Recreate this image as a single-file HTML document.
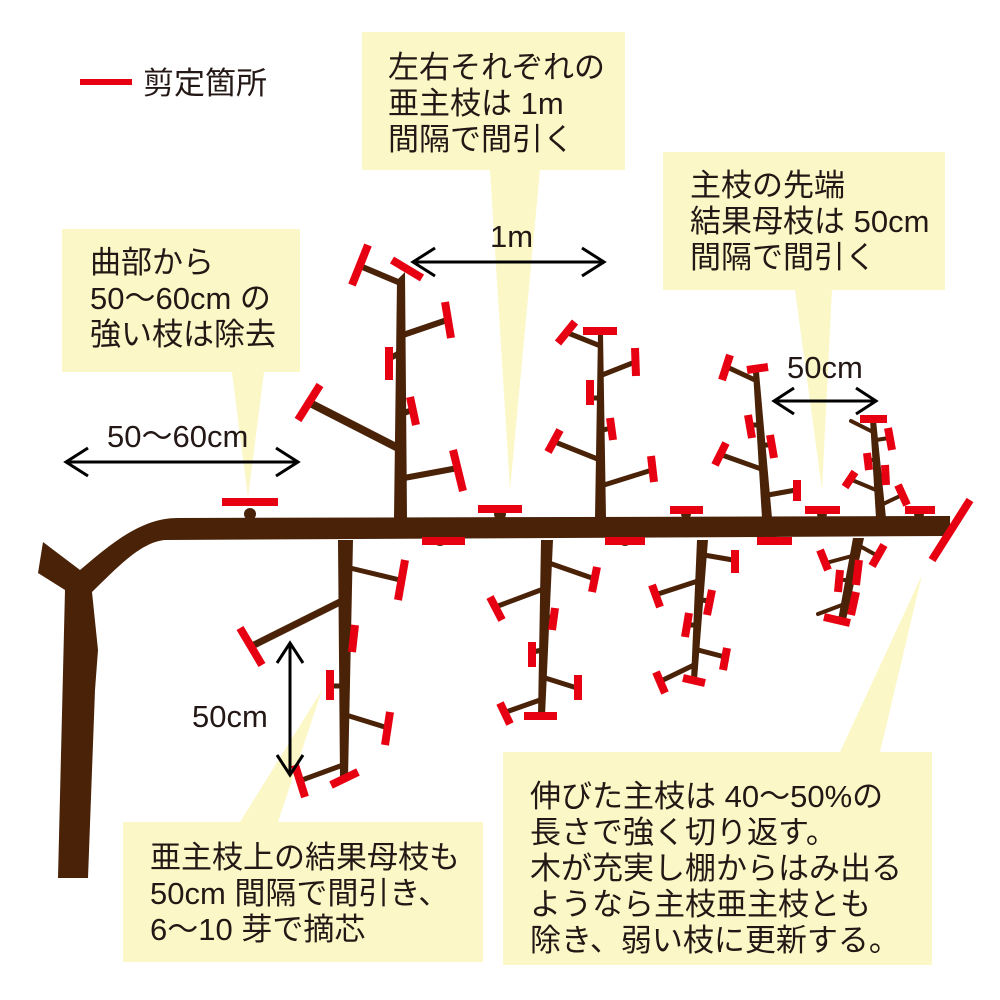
<!DOCTYPE html>
<html><head><meta charset="utf-8"><style>
html,body{margin:0;padding:0;background:#fff}
svg{display:block}
text{font-family:"Liberation Sans","Noto Sans CJK JP",sans-serif;fill:#231815;font-size:31px}
.b{stroke:#4a2208;fill:none;stroke-linecap:round}
.c{stroke:#e60012;stroke-width:8;fill:none}
.y{fill:#fcf7c6}
.a{stroke:#000;stroke-width:3;fill:none}
</style></head><body>
<svg width="1000" height="1000" viewBox="0 0 1000 1000" xmlns="http://www.w3.org/2000/svg">
<!-- callouts -->
<rect class="y" x="62" y="229" width="238" height="143"/>
<polygon class="y" points="232,372 264,372 248,498"/>
<rect class="y" x="362" y="32" width="263" height="138"/>
<polygon class="y" points="490,170 540,170 510,490"/>
<rect class="y" x="663" y="152" width="282" height="138"/>
<polygon class="y" points="795,290 832,290 822,490"/>
<rect class="y" x="123" y="822" width="360" height="140"/>
<polygon class="y" points="240,822 278,822 322,690"/>
<rect class="y" x="503" y="752" width="429" height="213"/>
<polygon class="y" points="840,752 880,752 922,575"/>

<!-- trunk + main branch -->
<path fill="#4a2208" d="M43,542 L80,570 C110,545 140,518 178,518 L950,516 L950,536 L165,540 C140,542 115,570 92,592 L98,650 L95,690 L88,878 L58,878 L65,590 L38,573 Z"/>
<g fill="#4a2208">
<circle cx="250" cy="514" r="6"/><circle cx="500" cy="514" r="6"/><circle cx="686" cy="514" r="5"/><circle cx="822" cy="514" r="5"/><circle cx="919" cy="514" r="5"/>
<circle cx="440" cy="540" r="6"/><circle cx="625" cy="540" r="6"/><circle cx="773" cy="540" r="5"/>
</g>
<g class="c">
<line x1="222" y1="502" x2="278" y2="502"/><line x1="478" y1="509" x2="522" y2="509"/><line x1="670" y1="510" x2="703" y2="510"/><line x1="805" y1="510" x2="840" y2="510"/><line x1="905" y1="510" x2="935" y2="510"/>
<line x1="422" y1="541" x2="465" y2="541"/><line x1="605" y1="541" x2="645" y2="541"/><line x1="757" y1="541" x2="792" y2="541"/>
<line x1="932" y1="560" x2="970" y2="500"/>
</g>

<!-- Tree 1 up -->
<path fill="#4a2208" d="M394,518 L397,280 L405,272 L407,518 Z"/>
<g class="b" stroke-width="6">
<line x1="398" y1="282" x2="360" y2="266"/><line x1="403" y1="335" x2="447" y2="320"/>
<line x1="400" y1="353" x2="390" y2="358"/><line x1="404" y1="413" x2="412" y2="410"/>
<line x1="398" y1="448" x2="310" y2="403" stroke-width="8"/><line x1="404" y1="478" x2="458" y2="468"/>
</g>
<g class="c">
<line x1="352" y1="285" x2="368" y2="245"/><line x1="392" y1="260" x2="422" y2="278"/>
<line x1="445" y1="302" x2="451" y2="338"/><line x1="389" y1="347" x2="389" y2="380"/>
<line x1="410" y1="397" x2="416" y2="425"/><line x1="298" y1="420" x2="320" y2="385"/>
<line x1="453" y1="450" x2="463" y2="491"/>
</g>

<!-- Tree 2 up -->
<path fill="#4a2208" d="M595,518 L598,333 L603,333 L606,518 Z"/>
<g class="b" stroke-width="5">
<line x1="598" y1="345" x2="568" y2="333"/><line x1="602" y1="375" x2="635" y2="362"/>
<line x1="599" y1="398" x2="591" y2="398"/><line x1="603" y1="430" x2="611" y2="428"/>
<line x1="600" y1="460" x2="555" y2="442"/><line x1="604" y1="485" x2="652" y2="470"/>
</g>
<g class="c">
<line x1="583" y1="331" x2="617" y2="331"/><line x1="558" y1="343" x2="575" y2="322"/>
<line x1="635" y1="348" x2="636" y2="376"/><line x1="590" y1="380" x2="590" y2="405"/>
<line x1="610" y1="418" x2="613" y2="440"/><line x1="548" y1="452" x2="560" y2="430"/>
<line x1="651" y1="456" x2="654" y2="482"/>
</g>

<!-- Tree 3 up -->
<path fill="#4a2208" d="M762,518 L753,372 L759,372 L772,518 Z"/>
<g class="b" stroke-width="5">
<line x1="755" y1="380" x2="727" y2="367"/><line x1="758" y1="425" x2="750" y2="425"/>
<line x1="764" y1="445" x2="771" y2="445"/>
<line x1="764" y1="470" x2="722" y2="455"/><line x1="768" y1="495" x2="796" y2="490"/>
</g>
<g class="c">
<line x1="747" y1="370" x2="768" y2="367"/><line x1="722" y1="380" x2="730" y2="355"/>
<line x1="748" y1="415" x2="752" y2="438"/><line x1="770" y1="435" x2="774" y2="458"/>
<line x1="715" y1="465" x2="726" y2="443"/><line x1="797" y1="480" x2="797" y2="501"/>
</g>

<!-- Tree 4 up small -->
<path fill="#4a2208" d="M876,518 L870,420 L876,420 L886,518 Z"/>
<g class="b" stroke-width="4">
<line x1="873" y1="432" x2="851" y2="421"/><line x1="876" y1="440" x2="889" y2="438"/>
<line x1="875" y1="460" x2="868" y2="460"/><line x1="879" y1="475" x2="886" y2="475"/>
<line x1="876" y1="490" x2="852" y2="480"/><line x1="881" y1="505" x2="900" y2="496"/>
</g>
<g class="c">
<line x1="860" y1="419" x2="887" y2="419"/><line x1="888" y1="428" x2="892" y2="450"/>
<line x1="867" y1="453" x2="869" y2="470"/><line x1="885" y1="465" x2="886" y2="485"/>
<line x1="845" y1="487" x2="855" y2="472"/><line x1="898" y1="485" x2="907" y2="505"/>
</g>

<!-- Tree 5 down small -->
<path fill="#4a2208" d="M853,538 L864,538 L846,620 L838,620 Z"/>
<g class="b" stroke-width="4">
<line x1="858" y1="545" x2="876" y2="555"/><line x1="852" y1="556" x2="826" y2="563"/>
<line x1="852" y1="572" x2="858" y2="572"/><line x1="848" y1="580" x2="840" y2="580"/>
<line x1="846" y1="600" x2="854" y2="605"/><line x1="842" y1="605" x2="818" y2="614"/>
</g>
<g class="c">
<line x1="872" y1="566" x2="884" y2="545"/><line x1="820" y1="550" x2="828" y2="570"/>
<line x1="859" y1="560" x2="856" y2="585"/><line x1="840" y1="570" x2="838" y2="592"/>
<line x1="856" y1="592" x2="851" y2="615"/><line x1="824" y1="617" x2="850" y2="623"/>
</g>

<!-- Down tree 1 -->
<path fill="#4a2208" d="M338,540 L353,540 L348,778 L340,778 Z"/>
<g class="b" stroke-width="5">
<line x1="350" y1="568" x2="400" y2="580"/><line x1="344" y1="600" x2="254" y2="645" stroke-width="7"/>
<line x1="348" y1="636" x2="355" y2="638"/><line x1="342" y1="686" x2="333" y2="686"/>
<line x1="346" y1="715" x2="388" y2="728"/><line x1="343" y1="765" x2="302" y2="780"/>
</g>
<g class="c">
<line x1="405" y1="560" x2="398" y2="600"/><line x1="240" y1="628" x2="262" y2="665"/>
<line x1="355" y1="625" x2="352" y2="652"/><line x1="330" y1="670" x2="330" y2="700"/>
<line x1="390" y1="712" x2="385" y2="745"/><line x1="295" y1="765" x2="305" y2="797"/>
<line x1="331" y1="785" x2="358" y2="772"/>
</g>

<!-- Down tree 2 -->
<path fill="#4a2208" d="M541,540 L553,540 L545,716 L538,716 Z"/>
<g class="b" stroke-width="5">
<line x1="549" y1="563" x2="592" y2="578"/><line x1="546" y1="588" x2="498" y2="606"/>
<line x1="548" y1="617" x2="555" y2="618"/><line x1="542" y1="650" x2="533" y2="652"/>
<line x1="542" y1="677" x2="577" y2="688"/><line x1="540" y1="700" x2="506" y2="712"/>
</g>
<g class="c">
<line x1="597" y1="567" x2="592" y2="592"/><line x1="490" y1="597" x2="502" y2="620"/>
<line x1="555" y1="608" x2="552" y2="630"/><line x1="532" y1="642" x2="532" y2="667"/>
<line x1="578" y1="675" x2="578" y2="700"/><line x1="500" y1="703" x2="510" y2="724"/>
<line x1="524" y1="716" x2="557" y2="716"/>
</g>

<!-- Down tree 3 -->
<path fill="#4a2208" d="M697,540 L708,540 L697,680 L691,680 Z"/>
<g class="b" stroke-width="5">
<line x1="704" y1="555" x2="733" y2="560"/><line x1="701" y1="580" x2="658" y2="594"/>
<line x1="702" y1="600" x2="709" y2="601"/><line x1="697" y1="625" x2="689" y2="625"/>
<line x1="698" y1="650" x2="725" y2="657"/><line x1="694" y1="665" x2="661" y2="681"/>
</g>
<g class="c">
<line x1="735" y1="550" x2="735" y2="573"/><line x1="652" y1="585" x2="660" y2="607"/>
<line x1="712" y1="590" x2="707" y2="615"/><line x1="689" y1="613" x2="685" y2="637"/>
<line x1="727" y1="648" x2="723" y2="670"/><line x1="656" y1="672" x2="665" y2="693"/>
<line x1="683" y1="678" x2="705" y2="683"/>
</g>

<!-- arrows -->
<g class="a">
<line x1="413" y1="262" x2="604" y2="262"/><polyline points="435,248 413,262 435,276"/><polyline points="582,248 604,262 582,276"/>
<line x1="66" y1="462" x2="298" y2="462"/><polyline points="88,448 66,462 88,476"/><polyline points="276,448 298,462 276,476"/>
<line x1="774" y1="401" x2="876" y2="401"/><polyline points="794,388 774,401 794,414"/><polyline points="856,388 876,401 856,414"/>
<line x1="290" y1="643" x2="290" y2="775"/><polyline points="277,663 290,643 303,663"/><polyline points="277,755 290,775 303,755"/>
</g>
<text x="490" y="247">1m</text>
<text x="107" y="447">50〜60cm</text>
<text x="787" y="378">50cm</text>
<text x="192" y="727">50cm</text>

<!-- legend -->
<line x1="80" y1="82" x2="132" y2="82" stroke="#e60012" stroke-width="6"/>
<text x="143" y="94">剪定箇所</text>

<!-- callout texts -->
<text x="90" y="273">曲部から</text>
<text x="90" y="309">50〜60cm の</text>
<text x="90" y="345">強い枝は除去</text>

<text x="388" y="78">左右それぞれの</text>
<text x="388" y="114">亜主枝は 1m</text>
<text x="388" y="150">間隔で間引く</text>

<text x="690" y="196">主枝の先端</text>
<text x="690" y="232">結果母枝は 50cm</text>
<text x="690" y="268">間隔で間引く</text>

<text x="150" y="868">亜主枝上の結果母枝も</text>
<text x="150" y="904">50cm 間隔で間引き、</text>
<text x="150" y="940">6〜10 芽で摘芯</text>

<text x="530" y="807">伸びた主枝は 40〜50%の</text>
<text x="530" y="843">長さで強く切り返す。</text>
<text x="530" y="879">木が充実し棚からはみ出る</text>
<text x="530" y="915">ようなら主枝亜主枝とも</text>
<text x="530" y="951">除き、弱い枝に更新する。</text>
</svg>
</body></html>
